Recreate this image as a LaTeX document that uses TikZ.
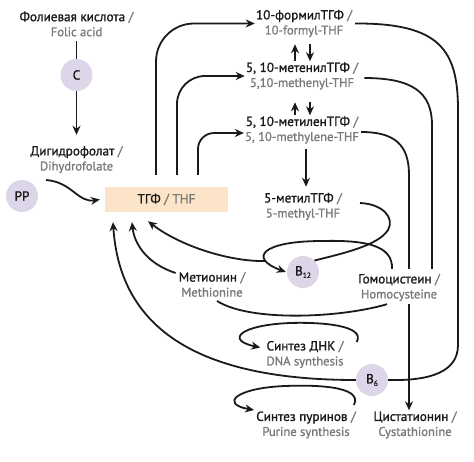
\documentclass[tikz,border=0pt]{standalone}
\usepackage{fontspec}
\setmainfont{PT Sans}[FakeBold=1.3]
\usetikzlibrary{arrows.meta,calc}
\definecolor{gr}{HTML}{7A7A7A}
\definecolor{tx}{HTML}{1A1A1A}
\definecolor{lav}{HTML}{DDD5E8}
\definecolor{peach}{HTML}{FCE4C8}
\newcommand\lbl[2]{{\color{tx}#1 \textcolor{gr}{/}}\\{\fontsize{12.6}{15}\selectfont\color{gr}#2}}
\newcommand\subsc[1]{\raisebox{-2.5pt}{\fontsize{7.5}{7.5}\selectfont #1}}
\begin{document}
\begin{tikzpicture}[x=1pt,y=-1pt,
  lab/.style={align=center, inner sep=1pt, font=\fontsize{13.2}{15}\selectfont},
  circ/.style={circle, fill=lav, minimum size=32pt, inner sep=0pt, text=tx, font=\fontsize{13.2}{15}\selectfont},
  thfbox/.style={fill=peach, minimum width=123pt, minimum height=25pt, inner sep=0pt, font=\fontsize{13.2}{15}\selectfont},
  ln/.style={line width=1.8pt, draw=tx},
  arr/.style={ln, -{Stealth[length=9pt,width=8pt]}}]
\useasboundingbox (0,0) rectangle (474,461);
\node[lab] (folic) at (76.5,24) {\lbl{Фолиевая кислота}{Folic acid}};
\node[circ] (C) at (76.5,75) {C};
\node[lab] (dhf) at (76.5,159.5) {\lbl{Дигидрофолат}{Dihydrofolate}};
\node[circ] (PP) at (22,196) {PP};
\node[thfbox] (thf) at (166.5,199.5) {\textcolor{tx}{ТГФ} \textcolor{gr}{/ THF}};
\node[lab] (formyl) at (304,23.5) {\lbl{10-формилТГФ}{10-formyl-THF}};
\node[lab] (methenyl) at (302,76) {\lbl{5, 10-метенилТГФ}{5,10-methenyl-THF}};
\node[lab] (methylene) at (302,130) {\lbl{5, 10-метиленТГФ}{5, 10-methylene-THF}};
\node[lab] (methyl) at (303,206.5) {\lbl{5-метилТГФ}{5-methyl-THF}};
\node[lab] (met) at (212,284.5) {\lbl{Метионин}{Methionine}};
\node[lab] (hcy) at (399,287.5) {\lbl{Гомоцистеин}{Homocysteine}};
\node[lab] (dna) at (305,354.5) {\lbl{Синтез ДНК}{DNA synthesis}};
\node[lab] (pur) at (306,425) {\lbl{Синтез пуринов}{Purine synthesis}};
\node[lab] (cys) at (415,425) {\lbl{Цистатионин}{Cystathionine}};
\node[circ] (B12) at (303,272) {B\subsc{12}};
\node[circ] (B6) at (372,380) {B\subsc{6}};
% folic acid branch
\draw[ln] ([yshift=-3pt]folic.south) -- (C.north);
\draw[arr] (C.south) -- ([yshift=10pt]dhf.north);
\draw[arr] ($(PP)+(24,-16)$) .. controls (72,182) and (78,203) .. ([xshift=-5pt]thf.west);
% THF to one-carbon forms
\draw[arr, rounded corners=38pt] ($(thf.north)+(-10.5,-12)$) |- (formyl.west);
\draw[arr, rounded corners=28pt] ($(thf.north)+(10.5,-12)$) |- (methenyl.west);
\draw[arr, rounded corners=16pt] ($(thf.north)+(31.5,-12)$) |- ([yshift=-3pt]methylene.west);
% interconversions
\draw[arr] ($(methenyl.north)+(-7,0)$) -- ($(methenyl.north)+(-7,-17)$);
\draw[arr] ($(methenyl.north)+(8,-17)$) -- ($(methenyl.north)+(8,0)$);
\draw[arr] ($(methylene.north)+(-7,0)$) -- ($(methylene.north)+(-7,-13)$);
\draw[arr] ($(methylene.north)+(8,-13)$) -- ($(methylene.north)+(8,0)$);
\draw[arr] ($(methylene.south)+(4,4)$) -- ($(methyl.north)+(3,-5)$);
% right-hand returns
\draw[ln] ([xshift=2pt]formyl.east) .. controls (440,23) and (458,50) .. (458,110) -- (458,345) .. controls (458,372) and (430,381) .. (B6.east);
\draw[arr] (B6.west) .. controls (200,380) and (120,330) .. ($(thf.south)+(-53.5,10)$);
\draw[ln] ([xshift=5pt,yshift=-2pt]methenyl.east) .. controls (412,78) and (432,92) .. (432,125) -- ($(hcy.north)+(33,-4)$);
\draw[ln] ([xshift=1pt,yshift=-2pt]methylene.east) .. controls (395,132) and (409,145) .. (409,175) -- ($(hcy.north)+(10,-4)$);
\draw[arr] ($(hcy.south)+(10,2)$) -- ($(cys.north)+(-6,0)$);
% methionine cycle
\draw[arr] ($(met.west)+(-2,-11.5)$) .. controls (145,263) and (134,242) .. ($(thf.south)+(-34.5,10)$);
\draw[ln] ($(met.south)+(5,3)$) .. controls (250,322) and (340,318) .. ($(hcy.south)+(-12,2)$);
\draw[ln] ([shift={(17pt,3.5pt)}]methyl.east) .. controls (383,204) and (395,218) .. (388,230) .. controls (378,246) and (340,254) .. (B12.north east);
\draw[arr] ($(hcy.north)+(-7,-4)$) .. controls (393,245) and (365,240) .. (322,241) .. controls (262,241) and (248,258) .. ([xshift=-1pt]B12.west);
\coordinate (j) at (266,261);
\draw[arr] (j) .. controls (230,262) and (180,246) .. ($(thf.south)+(-18.5,9)$);
% synthesis loops
\draw[arr] ($(dna.east)+(12,-12.5)$) .. controls (366,325) and (320,322) .. (290,323) .. controls (240,325) and (225,340) .. ($(dna.west)+(-5,-7)$);
\draw[arr] ($(pur.east)+(-3,-20)$) .. controls (364,385) and (310,385) .. (285,386) .. controls (235,388) and (220,404) .. ($(pur.west)+(-1,-15)$);
\end{tikzpicture}
\end{document}
